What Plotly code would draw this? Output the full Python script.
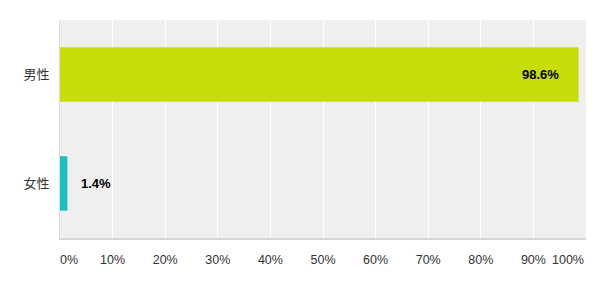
import plotly.graph_objects as go

categories = ["男性", "女性"]
values = [98.6, 1.4]
colors = ["#c8dc08", "#1cc0bf"]
tick_values = [0, 10, 20, 30, 40, 50, 60, 70, 80, 90, 100]
tick_labels = [f"{v}%" for v in tick_values]

fig = go.Figure()
fig.add_trace(go.Bar(
    y=categories, x=values, orientation="h",
    marker=dict(color=colors, line=dict(width=0)),
    width=0.5, hoverinfo="skip", showlegend=False,
))
# invisible helpers for the overlaid edge-label axes
fig.add_trace(go.Scatter(x=[None], y=[None], xaxis="x2", yaxis="y", showlegend=False, hoverinfo="skip"))
fig.add_trace(go.Scatter(x=[None], y=[None], xaxis="x3", yaxis="y", showlegend=False, hoverinfo="skip"))

# value labels
for cat, val in zip(categories, values):
    inside = val > 50
    fig.add_annotation(
        x=val, y=cat, xref="x", yref="y", text=f"<b>{val}%</b>",
        showarrow=False, xanchor="right" if inside else "left",
        xshift=-18 if inside else 12,
        font=dict(family="Liberation Sans, Arial, sans-serif", size=13, color="#000"),
    )

tickfont = dict(family="Liberation Sans, Arial, sans-serif", size=12.5, color="#333")
rng = [0, 100]
fig.update_layout(
    width=610, height=288,
    margin=dict(l=60, r=24, t=20, b=50),
    paper_bgcolor="white", plot_bgcolor="#efefef",
    bargap=0.5,
    xaxis=dict(range=rng, tickvals=tick_values[1:-1], ticktext=tick_labels[1:-1],
               showgrid=True, gridcolor="white", gridwidth=1.2, zeroline=False,
               showline=True, linecolor="#d6d6d6", linewidth=2, ticks="",
               tickfont=tickfont, ticklabelstandoff=9),
    xaxis2=dict(range=rng, overlaying="x", anchor="y", side="bottom",
                tickvals=[tick_values[0]], ticktext=[tick_labels[0]],
                showgrid=False, zeroline=False, showline=False, ticks="",
                tickfont=tickfont, ticklabelstandoff=12, ticklabelshift=9),
    xaxis3=dict(range=rng, overlaying="x", anchor="y", side="bottom",
                tickvals=[tick_values[-1]], ticktext=[tick_labels[-1]],
                showgrid=False, zeroline=False, showline=False, ticks="",
                tickfont=tickfont, ticklabelstandoff=12, ticklabelshift=-18),
    yaxis=dict(autorange="reversed", showgrid=False, zeroline=False,
               showline=True, linecolor="#dcdcdc", linewidth=1, ticks="",
               tickfont=dict(family="Noto Sans CJK JP", size=13, color="#333"),
               ticklabelstandoff=7),
)
fig.write_html("out.html")
